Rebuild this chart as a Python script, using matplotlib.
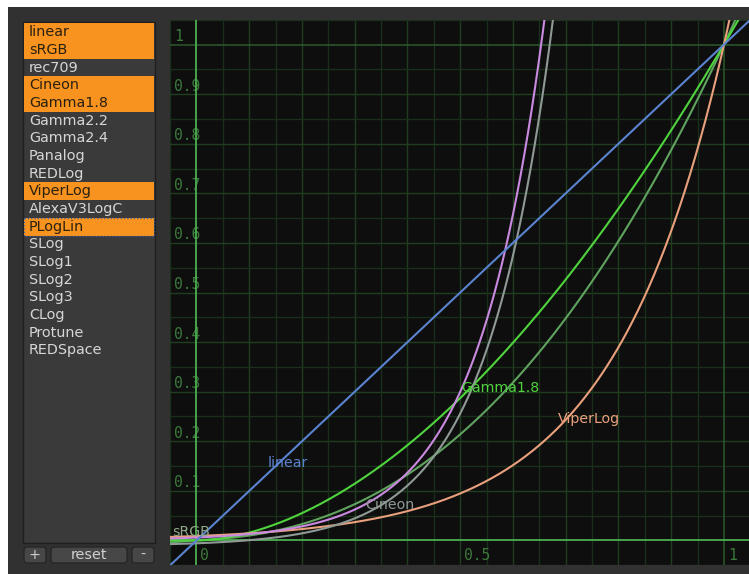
import numpy as np
import matplotlib
matplotlib.use("Agg")
from matplotlib import pyplot as plt
from matplotlib.patches import Rectangle, FancyBboxPatch

# colorspace list in the side panel, and which ones are switched on
spaces = ["linear", "sRGB", "rec709", "Cineon", "Gamma1.8", "Gamma2.2", "Gamma2.4",
          "Panalog", "REDLog", "ViperLog", "AlexaV3LogC", "PLogLin", "SLog", "SLog1",
          "SLog2", "SLog3", "CLog", "Protune", "REDSpace"]
selected = ["linear", "sRGB", "Cineon", "Gamma1.8", "ViperLog", "PLogLin"]
focused = "PLogLin"
buttons = ["+", "reset", "-"]

# curve parameters (colorspace -> linear)
gamma_18 = 1.8
cineon_black, cineon_white, cineon_gamma = 95, 685, 0.6
plog_linref, plog_logref, plog_neg_gamma, plog_density = 0.18, 445, 0.6, 0.002
viper_white, viper_scale = 1023, 500

curve_names = ["sRGB", "Gamma1.8", "ViperLog", "Cineon", "PLogLin", "linear"]
curve_colors = ["#5fa35f", "#4fd43e", "#e9a07c", "#8f9996", "#c98ae0", "#5b84d0"]
label_names = ["linear", "Gamma1.8", "ViperLog", "Cineon", "sRGB"]
label_x = [0.134, 0.502, 0.685, 0.319, -0.046]
label_y = [0.156, 0.307, 0.245, 0.072, 0.017]
label_colors = ["#5b84d0", "#4fd43e", "#e9a07c", "#8f9996", "#8fa888"]

y_ticks = [0.1, 0.2, 0.3, 0.4, 0.5, 0.6, 0.7, 0.8, 0.9, 1]
x_ticks = [0, 0.5, 1]


def to_linear(name, x):
    if name == "linear":
        return x
    if name == "sRGB":
        return np.where(x <= 0.04045, x / 12.92, ((x + 0.055) / 1.055) ** 2.4)
    if name == "Gamma1.8":
        return np.clip(x, 0, None) ** gamma_18
    if name == "Cineon":
        k = 0.002 / cineon_gamma
        off = 10 ** ((cineon_black - cineon_white) * k)
        return (10 ** ((x * 1023 - cineon_white) * k) - off) / (1 - off)
    if name == "PLogLin":
        return 10 ** ((x * 1023 - plog_logref) * plog_density / plog_neg_gamma) * plog_linref
    if name == "ViperLog":
        return 10 ** ((x * 1023 - viper_white) / viper_scale)


W, H = 749, 574
fig = plt.figure(figsize=(W / 100, H / 100), dpi=100, facecolor="white")

# ---- UI chrome, drawn in pixel coordinates
ui = fig.add_axes([0, 0, 1, 1])
ui.set_xlim(0, W)
ui.set_ylim(H, 0)
ui.axis("off")
ui.add_patch(Rectangle((8, 7), W - 8, H - 7, facecolor="#313131", edgecolor="none"))
ui.add_patch(Rectangle((23, 22), 132, 521, facecolor="#3a3a3a", edgecolor="#1e1e1e", lw=1))

row0, row_h = 32.3, 17.67
for i, s in enumerate(spaces):
    yc = row0 + i * row_h
    if s in selected:
        ui.add_patch(Rectangle((24, yc - row_h / 2), 130, row_h, facecolor="#f7931e",
                               edgecolor="none"))
        col = "#2a2010"
    else:
        col = "#d6d6d6"
    if s == focused:
        ui.add_patch(Rectangle((24, yc - row_h / 2), 130, row_h, facecolor="none",
                               edgecolor="#3d5fa8", lw=0.9, ls=":"))
    ui.text(29, yc, s, color=col, fontsize=10.4, va="center", ha="left",
            family="DejaVu Sans")

bx = [(23, 24), (50, 78), (131, 24)]
for (x0, w), b in zip(bx, buttons):
    ui.add_patch(FancyBboxPatch((x0 + 1, 547), w - 2, 16, boxstyle="round,pad=0,rounding_size=3",
                                facecolor="#474747", edgecolor="#262626", lw=1))
    ui.text(x0 + w / 2, 555, b, color="#d0d0d0", fontsize=10.4, ha="center", va="center")

# ---- curve view
ax = fig.add_axes([170 / W, 1 - 565 / H, 579 / W, 545 / H])
ax.set_facecolor("#0e0e0e")
ax.set_xlim(-0.0502, 1.0474)
ax.set_ylim(-0.0494, 1.0494)
ax.set_xticks([])
ax.set_yticks([])
for sp in ax.spines.values():
    sp.set_visible(False)

grid = np.arange(-0.05, 1.0501, 0.05)
for g in grid:
    v = round(g, 2)
    if v == 0.0:
        c, lw, z = "#4caf50", 1.3, 3
    elif v == 1.0:
        c, lw, z = "#2c5a2c", 1.1, 1
    elif round(v * 10, 4) % 1 == 0:
        c, lw, z = "#203d1f", 1.0, 1
    else:
        c, lw, z = "#1a2f1a", 1.0, 1
    ax.axvline(v, color=c, lw=lw, zorder=z)
    ax.axhline(v, color=c, lw=lw, zorder=z)

for v in y_ticks:
    ax.text(-0.0426, v + 0.016, f"{v:g}", color="#3c7a3c", fontsize=10.5,
            family="DejaVu Sans Mono", ha="left", va="center", zorder=2)
for v in x_ticks:
    ax.text(v + 0.0075, -0.031, f"{v:g}", color="#3c7a3c", fontsize=10.5,
            family="DejaVu Sans Mono", ha="left", va="center", zorder=2)

xs = np.linspace(-0.06, 1.06, 800)
for name, col in zip(curve_names, curve_colors):
    ax.plot(xs, to_linear(name, xs), color=col, lw=1.5, zorder=4)

for name, lx, ly, col in zip(label_names, label_x, label_y, label_colors):
    ax.text(lx, ly, name, color=col, fontsize=10.2, ha="left", va="center", zorder=5)

fig.savefig("out.png", dpi=100)
